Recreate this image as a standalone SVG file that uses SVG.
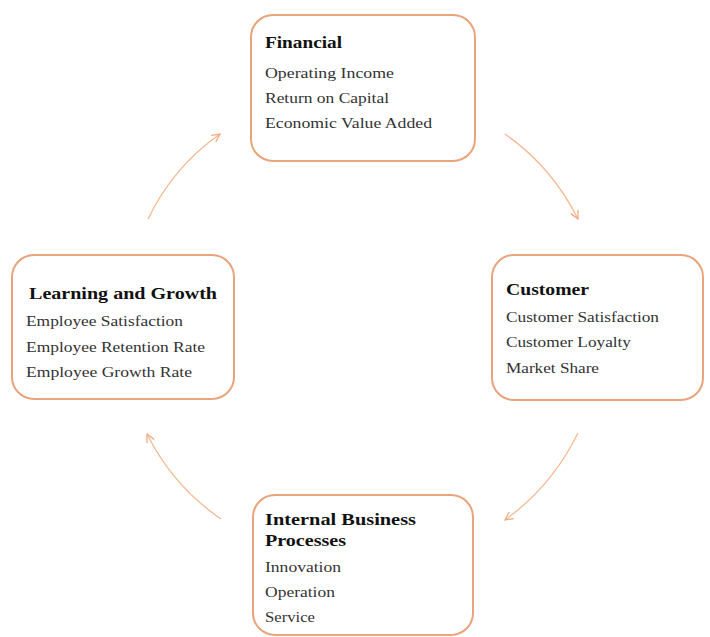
<svg xmlns="http://www.w3.org/2000/svg" width="710" height="637" viewBox="0 0 710 637">
<defs>
<marker id="arr" viewBox="0 0 10 10" refX="9" refY="5" markerWidth="10" markerHeight="10" markerUnits="userSpaceOnUse" orient="auto">
<path d="M1,1 L9,5 L1,9" fill="none" stroke="#f2ad85" stroke-width="1.3"/>
</marker>
<style>
.box{fill:#ffffff;stroke:#e9a47c;stroke-width:2}
.t{font-family:"Liberation Serif","Times New Roman",serif;font-size:17px;font-weight:bold;fill:#111}
.b{font-family:"Liberation Serif","Times New Roman",serif;font-size:15.5px;fill:#333}
.c{fill:none;stroke:#f5b994;stroke-width:1.3}
</style>
</defs>
<rect width="710" height="637" fill="#ffffff"/>
<g id="connectors">
<path class="c" d="M505,134 Q552,167 578,219" marker-end="url(#arr)"/>
<path class="c" d="M578,433 Q552,486 505,520" marker-end="url(#arr)"/>
<path class="c" d="M221,519 Q173,486 147,434" marker-end="url(#arr)"/>
<path class="c" d="M148,219 Q173,167 220,134" marker-end="url(#arr)"/>
</g>
<g id="financial">
<rect class="box" x="251" y="15" width="224" height="146" rx="22"/>
<text class="t" x="265" y="48" textLength="77" lengthAdjust="spacingAndGlyphs">Financial</text>
<text class="b" x="265" y="78" textLength="129" lengthAdjust="spacingAndGlyphs">Operating Income</text>
<text class="b" x="265" y="103" textLength="124" lengthAdjust="spacingAndGlyphs">Return on Capital</text>
<text class="b" x="265" y="128" textLength="167" lengthAdjust="spacingAndGlyphs">Economic Value Added</text>
</g>
<g id="customer">
<rect class="box" x="492" y="255" width="211" height="145" rx="22"/>
<text class="t" x="506" y="295" textLength="83" lengthAdjust="spacingAndGlyphs">Customer</text>
<text class="b" x="506" y="322" textLength="153" lengthAdjust="spacingAndGlyphs">Customer Satisfaction</text>
<text class="b" x="506" y="347" textLength="125" lengthAdjust="spacingAndGlyphs">Customer Loyalty</text>
<text class="b" x="506" y="373" textLength="93" lengthAdjust="spacingAndGlyphs">Market Share</text>
</g>
<g id="learning">
<rect class="box" x="12" y="255" width="222" height="144" rx="22"/>
<text class="t" x="29" y="299" textLength="188" lengthAdjust="spacingAndGlyphs">Learning and Growth</text>
<text class="b" x="26" y="326" textLength="157" lengthAdjust="spacingAndGlyphs">Employee Satisfaction</text>
<text class="b" x="26" y="352" textLength="179" lengthAdjust="spacingAndGlyphs">Employee Retention Rate</text>
<text class="b" x="26" y="377" textLength="166" lengthAdjust="spacingAndGlyphs">Employee Growth Rate</text>
</g>
<g id="internal">
<rect class="box" x="253" y="495" width="220" height="140" rx="22"/>
<text class="t" x="265" y="525" textLength="151" lengthAdjust="spacingAndGlyphs">Internal Business</text>
<text class="t" x="265" y="546" textLength="81" lengthAdjust="spacingAndGlyphs">Processes</text>
<text class="b" x="265" y="572" textLength="76" lengthAdjust="spacingAndGlyphs">Innovation</text>
<text class="b" x="265" y="597" textLength="70" lengthAdjust="spacingAndGlyphs">Operation</text>
<text class="b" x="265" y="622" textLength="50" lengthAdjust="spacingAndGlyphs">Service</text>
</g>
</svg>
